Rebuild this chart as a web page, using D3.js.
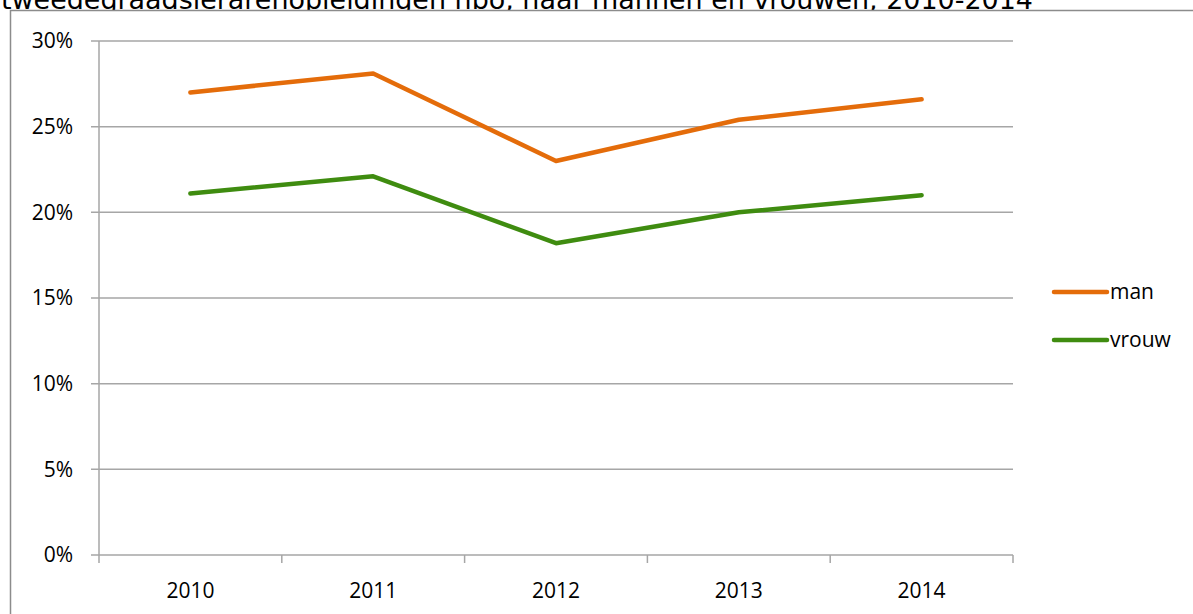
<!DOCTYPE html>
<html><head><meta charset="utf-8">
<script src="https://cdn.jsdelivr.net/npm/d3@7"></script>
<style>body{margin:0;background:#fff;} svg{display:block;}</style>
</head><body>
<svg id="c" width="1193" height="614"></svg>
<script>
const title = "tweedegraadslerarenopleidingen hbo, naar mannen en vrouwen, 2010-2014";
const years = ["2010","2011","2012","2013","2014"];
const man = [27.0, 28.1, 23.0, 25.4, 26.6];
const vrouw = [21.1, 22.1, 18.2, 20.0, 21.0];
const yTicks = [0,5,10,15,20,25,30];
const seriesNames = ["man","vrouw"];
const colors = ["#E46C0A","#3F8C10"];

const svg = d3.select("#c");
const L=99, R=1013, T=41, B=555;
const x = d3.scaleBand().domain(years).range([L,R]).padding(0);
const y = d3.scaleLinear().domain([0,30]).range([B,T]);
const font = "Open Sans, Liberation Sans, Arial";

svg.append("text").attr("x",1).attr("y",9).attr("font-family","DejaVu Sans").attr("font-size",27)
  .attr("textLength",1032).attr("lengthAdjust","spacingAndGlyphs").attr("fill","#000").text(title);
// frame with white fill
svg.append("rect").attr("x",10.5).attr("y",10.5).attr("width",1200).attr("height",620)
  .attr("fill","#fff").attr("stroke","#8c8c8c").attr("stroke-width",1.5);

// gridlines
svg.append("g").selectAll("line").data(yTicks).join("line")
  .attr("x1",L-8).attr("x2",R).attr("y1",d=>y(d)).attr("y2",d=>y(d))
  .attr("stroke","#a6a6a6").attr("stroke-width",1.5);
svg.append("g").selectAll("text").data(yTicks).join("text")
  .attr("x",L-26).attr("y",d=>y(d)).attr("dy","0.35em").attr("text-anchor","end")
  .attr("font-family",font).attr("font-size",21).text(d=>d+"%");
// y axis
svg.append("line").attr("x1",L).attr("x2",L).attr("y1",T).attr("y2",B).attr("stroke","#a6a6a6").attr("stroke-width",1.5);
// x ticks
const xt = years.map(d=>x(d)).concat([R]);
svg.append("g").selectAll("line").data(xt).join("line")
  .attr("x1",d=>d).attr("x2",d=>d).attr("y1",B).attr("y2",B+8).attr("stroke","#a6a6a6").attr("stroke-width",1.5);
svg.append("g").selectAll("text").data(years).join("text")
  .attr("x",d=>x(d)+x.bandwidth()/2).attr("y",598).attr("text-anchor","middle")
  .attr("font-family",font).attr("font-size",21).text(d=>d);

const line = d3.line().x((d,i)=>x(years[i])+x.bandwidth()/2).y(d=>y(d));
[man,vrouw].forEach((s,k)=>{
  svg.append("path").datum(s).attr("d",line).attr("fill","none").attr("stroke",colors[k])
    .attr("stroke-width",4.5).attr("stroke-linejoin","round").attr("stroke-linecap","round");
});
// legend
seriesNames.forEach((n,k)=>{
  const ly = 292 + k*48;
  svg.append("line").attr("x1",1054).attr("x2",1107).attr("y1",ly).attr("y2",ly)
    .attr("stroke",colors[k]).attr("stroke-width",4.5).attr("stroke-linecap","round");
  svg.append("text").attr("x",1110).attr("y",ly).attr("dy","0.35em")
    .attr("font-family",font).attr("font-size",21).text(n);
});
</script>
</body></html>
